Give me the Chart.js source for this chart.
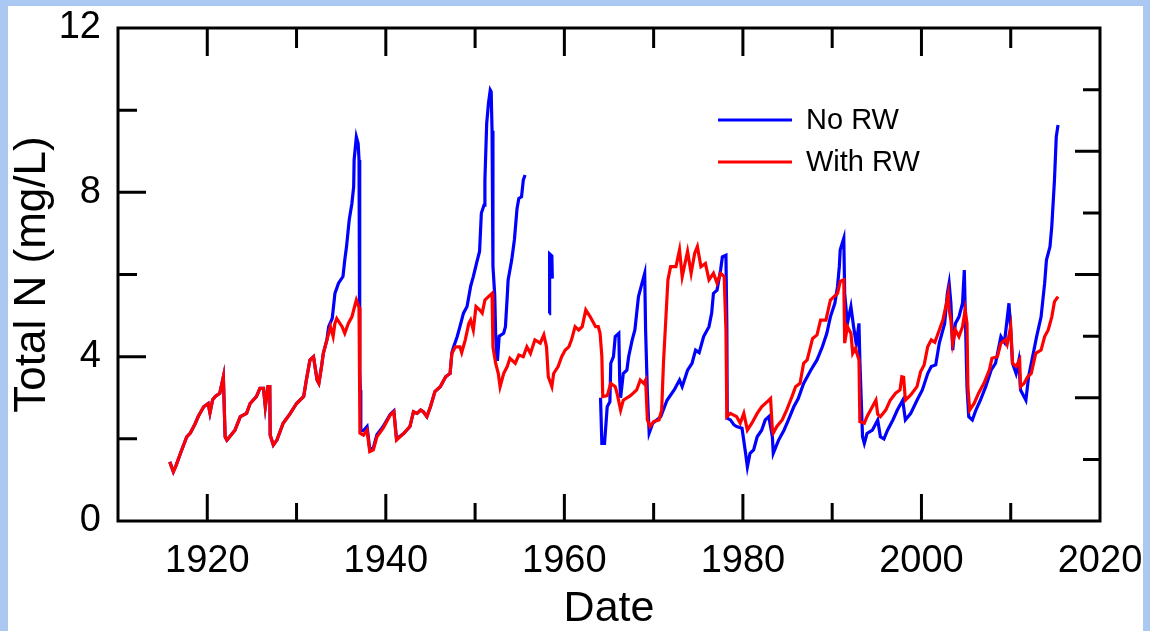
<!DOCTYPE html>
<html>
<head>
<meta charset="utf-8">
<script src="https://cdn.jsdelivr.net/npm/chart.js@4"></script>
<style>
  body { margin: 0; background: #aac8f1; width: 1150px; height: 631px; overflow: hidden; }
  #panel { position: absolute; left: 8px; top: 6px; width: 1135px; height: 625px; background: #fff; }
  #myChart { position: absolute; left: 0; top: 0; }
</style>
</head>
<body>
<div id="panel"></div>
<canvas id="myChart" width="1150" height="631"></canvas>
<script>
// With RW (red)
const withRwYears = [
  1915.8, 1916.2, 1916.5, 1917.0, 1917.7, 1918.1, 1918.6, 1919.0, 1919.6, 1920.1,
  1920.3, 1920.6, 1920.9, 1921.4, 1921.8, 1922.0, 1922.2, 1923.1, 1923.7, 1924.4,
  1924.8, 1925.5, 1925.9, 1926.3, 1926.5, 1926.8, 1927.0, 1927.05, 1927.4, 1927.8,
  1928.5, 1929.3, 1930.0, 1930.8, 1931.1, 1931.5, 1931.9, 1932.3, 1932.5, 1932.8,
  1933.0, 1933.4, 1933.6, 1933.8, 1934.1, 1934.3, 1934.5, 1935.1, 1935.4, 1935.8,
  1936.2, 1936.6, 1936.7, 1936.9, 1937.0, 1937.1, 1937.5, 1937.9, 1938.2, 1938.6,
  1939.0, 1939.7, 1940.5, 1940.9, 1941.2, 1942.0, 1942.7, 1943.1, 1943.5, 1943.9,
  1944.2, 1944.6, 1945.0, 1945.5, 1946.1, 1946.7, 1947.2, 1947.4, 1947.8, 1948.3,
  1948.5, 1948.9, 1949.3, 1949.5, 1949.8, 1950.1, 1950.5, 1950.8, 1951.1, 1951.5,
  1951.9, 1952.0, 1952.3, 1952.6, 1952.8, 1953.2, 1953.6, 1953.9, 1954.5, 1954.9,
  1955.4, 1955.8, 1956.2, 1956.7, 1957.3, 1957.7, 1958.0, 1958.2, 1958.6, 1958.8,
  1959.3, 1959.7, 1960.1, 1960.5, 1960.8, 1961.2, 1961.6, 1962.0, 1962.4, 1962.9,
  1963.5, 1963.8, 1964.0, 1964.2, 1964.3, 1964.8, 1965.2, 1965.7, 1965.9, 1966.3,
  1966.6, 1967.4, 1968.1, 1968.5, 1968.9, 1969.1, 1969.3, 1969.6, 1970.0, 1970.6,
  1970.9, 1971.1, 1971.3, 1971.6, 1971.9, 1972.5, 1972.9, 1973.2, 1973.8, 1974.2,
  1974.6, 1974.9, 1975.3, 1975.8, 1976.2, 1976.7, 1977.1, 1977.5, 1977.9, 1978.1,
  1978.2, 1978.6, 1979.3, 1979.7, 1980.1, 1980.5, 1981.0, 1981.6, 1982.1, 1982.7,
  1983.1, 1983.3, 1983.4, 1983.8, 1984.4, 1984.9, 1985.5, 1985.9, 1986.4, 1986.8,
  1987.2, 1987.8, 1988.3, 1988.7, 1989.3, 1989.8, 1990.6, 1990.9, 1991.3, 1991.4,
  1991.7, 1992.1, 1992.3, 1992.6, 1993.0, 1993.1, 1993.6, 1993.9, 1994.3, 1994.9,
  1995.1, 1995.4, 1996.0, 1996.5, 1997.1, 1997.6, 1997.8, 1998.0, 1998.2, 1998.8,
  1999.5, 1999.9, 2000.3, 2000.7, 2001.1, 2001.5, 2002.0, 2002.4, 2002.8, 2003.0,
  2003.1, 2003.3, 2003.5, 2003.8, 2004.2, 2004.6, 2004.9, 2005.1, 2005.2, 2005.4,
  2005.9, 2006.4, 2007.0, 2007.6, 2007.9, 2008.5, 2008.9, 2009.4, 2009.6, 2010.0,
  2010.2, 2010.6, 2011.0, 2011.1, 2011.5, 2011.9, 2012.3, 2012.8, 2013.4, 2013.8,
  2014.2, 2014.6, 2014.9, 2015.3
]
const withRwValues = [
  1.44, 1.20, 1.35, 1.65, 2.05, 2.14, 2.35, 2.55, 2.78, 2.86,
  2.63, 2.95, 3.03, 3.11, 3.51, 2.05, 1.97, 2.21, 2.54, 2.62,
  2.86, 3.03, 3.23, 3.23, 2.78, 3.27, 3.27, 2.09, 1.85, 1.97,
  2.38, 2.62, 2.86, 3.03, 3.43, 3.92, 4.00, 3.43, 3.35, 3.76,
  4.08, 4.41, 4.57, 4.73, 4.49, 4.81, 4.93, 4.73, 4.57, 4.81,
  4.97, 5.30, 5.38, 5.26, 5.20, 2.14, 2.09, 2.21, 1.69, 1.73,
  2.05, 2.26, 2.58, 2.66, 1.97, 2.13, 2.30, 2.66, 2.62, 2.70,
  2.66, 2.54, 2.78, 3.15, 3.27, 3.51, 3.59, 4.08, 4.24, 4.24,
  4.10, 4.41, 4.81, 4.89, 4.65, 5.22, 5.14, 5.06, 5.38, 5.46,
  5.54, 4.24, 3.84, 3.59, 3.27, 3.59, 3.76, 3.96, 3.84, 4.04,
  4.00, 4.24, 4.08, 4.41, 4.33, 4.53, 4.24, 3.51, 3.27, 3.59,
  3.76, 4.00, 4.16, 4.24, 4.41, 4.73, 4.65, 4.73, 5.14, 4.97,
  4.73, 4.73, 4.57, 4.00, 3.03, 3.05, 3.35, 3.27, 3.11, 2.70,
  2.94, 3.05, 3.19, 3.43, 3.35, 3.43, 2.46, 2.30, 2.42, 2.46,
  2.70, 3.84, 4.65, 5.87, 6.19, 6.19, 6.60, 5.95, 6.56, 6.03,
  6.52, 6.68, 6.19, 6.27, 5.87, 6.03, 5.79, 6.03, 5.95, 4.65,
  2.54, 2.62, 2.54, 2.38, 2.62, 2.21, 2.38, 2.62, 2.78, 2.90,
  2.98, 2.21, 2.14, 2.30, 2.46, 2.70, 3.03, 3.27, 3.35, 3.84,
  3.92, 4.44, 4.53, 4.89, 4.89, 5.38, 5.54, 5.83, 5.87, 4.33,
  4.73, 4.57, 4.08, 4.20, 3.92, 2.42, 2.38, 2.54, 2.70, 2.94,
  2.60, 2.54, 2.70, 2.94, 3.11, 3.19, 3.51, 3.50, 2.94, 3.07,
  3.27, 3.63, 3.80, 4.24, 4.41, 4.35, 4.65, 4.89, 5.30, 5.54,
  5.14, 4.89, 4.33, 4.65, 4.49, 4.73, 5.14, 4.81, 3.27, 2.70,
  2.86, 3.11, 3.35, 3.67, 3.96, 4.00, 4.33, 4.41, 4.30, 4.73,
  3.84, 3.76, 3.92, 3.27, 3.35, 3.51, 3.59, 4.08, 4.16, 4.49,
  4.65, 4.97, 5.34, 5.46
]

// No RW (blue), null = break in the line
const noRwYears = [
  1915.8, 1916.2, 1916.5, 1917.0, 1917.7, 1918.1, 1918.6, 1919.0, 1919.6, 1920.1,
  1920.3, 1920.6, 1920.9, 1921.4, 1921.8, 1922.0, 1922.2, 1923.1, 1923.7, 1924.4,
  1924.8, 1925.5, 1925.9, 1926.3, 1926.5, 1926.8, 1927.0, 1927.05, 1927.4, 1927.8,
  1928.5, 1929.3, 1930.0, 1930.8, 1931.1, 1931.5, 1931.9, 1932.3, 1932.5, 1932.8,
  1933.0, 1933.4, 1933.6, 1934.0, 1934.3, 1934.7, 1935.2, 1935.4, 1935.6, 1935.9,
  1936.2, 1936.4, 1936.45, 1936.7, 1936.9, 1937.0, 1937.05, 1937.1, 1937.15, 1937.2,
  1937.5, 1937.9, 1938.2, 1938.6, 1939.0, 1939.7, 1940.5, 1940.9, 1941.2, 1942.0,
  1942.7, 1943.1, 1943.5, 1943.9, 1944.2, 1944.6, 1945.0, 1945.5, 1946.1, 1946.7,
  1947.2, 1947.4, 1947.6, 1948.0, 1948.3, 1948.7, 1949.1, 1949.5, 1949.8, 1950.2,
  1950.5, 1950.7, 1951.0, 1951.1, 1951.3, 1951.5, 1951.7, 1951.8, 1951.9, 1952.0,
  1952.2, 1952.3, 1952.4, 1952.5, 1952.7, 1953.2, 1953.4, 1953.6, 1953.7, 1954.1,
  1954.4, 1954.7, 1954.9, 1955.2, 1955.4, 1955.6, 1957.0, 1958.3, 1958.35, 1958.6,
  1958.65, 1961.0, 1964.05, 1964.2, 1964.5, 1964.8, 1965.1, 1965.2, 1965.5, 1965.7,
  1965.9, 1966.1, 1966.2, 1966.3, 1966.6, 1967.0, 1967.2, 1967.6, 1967.9, 1968.3,
  1968.7, 1969.0, 1969.1, 1969.3, 1969.5, 1969.9, 1970.8, 1971.5, 1972.3, 1972.9,
  1973.2, 1973.8, 1974.3, 1974.7, 1975.1, 1975.6, 1976.2, 1976.5, 1976.7, 1977.1,
  1977.5, 1977.7, 1978.1, 1978.2, 1978.25, 1978.6, 1979.0, 1979.3, 1979.9, 1980.3,
  1980.5, 1980.8, 1981.2, 1981.6, 1982.1, 1982.5, 1982.9, 1983.3, 1983.4, 1984.0,
  1984.6, 1985.1, 1985.7, 1986.2, 1986.8, 1987.6, 1988.3, 1988.9, 1989.4, 1989.8,
  1990.3, 1990.6, 1990.8, 1990.9, 1991.3, 1991.4, 1991.7, 1992.1, 1992.4, 1992.7,
  1993.0, 1993.1, 1993.4, 1993.6, 1993.9, 1994.5, 1995.1, 1995.4, 1995.8, 1996.2,
  1996.8, 1997.3, 1997.9, 1998.2, 1998.8, 1999.5, 2000.1, 2000.7, 2001.1, 2001.6,
  2002.0, 2002.6, 2002.9, 2003.1, 2003.3, 2003.5, 2003.8, 2004.2, 2004.6, 2004.8,
  2004.9, 2005.1, 2005.3, 2005.7, 2006.1, 2006.6, 2007.2, 2007.8, 2008.3, 2008.9,
  2009.3, 2009.8, 2010.0, 2010.2, 2010.6, 2010.9, 2011.1, 2011.7, 2012.0, 2012.6,
  2012.9, 2013.4, 2013.8, 2014.0, 2014.4, 2014.6, 2014.9, 2015.1, 2015.3
]
const noRwValues = [
  1.44, 1.20, 1.35, 1.65, 2.05, 2.14, 2.35, 2.55, 2.78, 2.86,
  2.63, 2.95, 3.03, 3.11, 3.51, 2.05, 1.97, 2.21, 2.54, 2.62,
  2.86, 3.03, 3.23, 3.23, 2.78, 3.27, 3.27, 2.09, 1.85, 1.97,
  2.38, 2.62, 2.86, 3.03, 3.43, 3.92, 4.00, 3.43, 3.35, 3.76,
  4.08, 4.41, 4.73, 4.93, 5.54, 5.79, 5.95, 6.35, 6.68, 7.33,
  7.73, 8.14, 8.79, 9.35, 9.19, 8.79, 5.30, 3.67, 3.19, 2.20,
  2.20, 2.30, 1.75, 1.78, 2.10, 2.30, 2.60, 2.68, 2.00, 2.13,
  2.30, 2.66, 2.62, 2.70, 2.66, 2.54, 2.78, 3.15, 3.27, 3.51,
  3.59, 4.10, 4.24, 4.49, 4.73, 5.06, 5.22, 5.71, 5.95, 6.31,
  6.56, 7.49, 7.69, 8.30, 9.68, 10.17, 10.49, 10.45, 9.50, 6.20,
  5.50, 4.57, 4.10, 3.90, 4.50, 4.57, 4.73, 5.46, 5.87, 6.35,
  6.84, 7.61, 7.85, 7.89, 8.30, 8.42, null, 5.05, 6.50, 6.45,
  5.90, null, 3.00, 1.89, 1.89, 2.78, 2.90, 3.84, 4.00, 4.49,
  4.53, 4.57, 3.43, 3.00, 3.59, 3.67, 4.00, 4.41, 4.65, 5.46,
  5.79, 6.03, 4.65, 3.11, 2.14, 2.38, 2.54, 2.94, 3.19, 3.43,
  3.27, 3.67, 3.84, 4.16, 4.10, 4.49, 4.73, 5.06, 5.54, 5.62,
  6.11, 6.43, 6.47, 4.73, 2.50, 2.46, 2.34, 2.30, 2.26, 1.65,
  1.32, 1.65, 1.73, 2.05, 2.21, 2.46, 2.54, 2.05, 1.65, 1.97,
  2.21, 2.46, 2.78, 2.98, 3.35, 3.67, 3.92, 4.24, 4.57, 4.97,
  5.30, 5.71, 6.19, 6.60, 6.88, 5.54, 4.81, 5.22, 4.73, 4.30,
  4.81, 3.92, 2.05, 1.89, 2.13, 2.21, 2.46, 2.05, 2.00, 2.21,
  2.46, 2.70, 2.94, 2.46, 2.62, 2.94, 3.19, 3.59, 3.76, 3.80,
  4.33, 4.81, 5.54, 5.79, 5.30, 4.16, 4.81, 4.97, 5.30, 6.11,
  5.14, 3.27, 2.54, 2.46, 2.70, 2.94, 3.27, 3.67, 3.84, 4.49,
  4.35, 5.30, 4.65, 3.84, 3.59, 3.90, 3.19, 2.94, 3.51, 4.16,
  4.49, 4.97, 5.79, 6.35, 6.68, 7.17, 8.30, 9.35, 9.64
]

const seriesLabels = ['No RW', 'With RW']
const seriesColors = ['rgb(0, 0, 255)', 'rgb(255, 0, 0)']
const xTickLabels = [1920, 1940, 1960, 1980, 2000, 2020]
const yTickLabels = [0, 4, 8, 12]

const toPoints = (xs, ys) => xs.map((x, i) => ({x: x, y: ys[i]}))

const fontFamily = 'Arial, "Liberation Sans", sans-serif'

// frame, inward tick marks and the legend
const framePlugin = {
    id: 'frame',
    afterDraw(chart) {
        const ctx = chart.ctx
        const a = chart.chartArea
        const xs = chart.scales.x
        const ys = chart.scales.y
        ctx.save()
        ctx.strokeStyle = '#000'
        ctx.lineWidth = 3
        ctx.lineCap = 'butt'
        ctx.strokeRect(a.left, a.top, a.right - a.left, a.bottom - a.top)
        ctx.beginPath()
        for (let v = 1920; v < 2020; v += 10) {
            const px = xs.getPixelForValue(v)
            const major = v % 20 === 0
            ctx.moveTo(px, a.bottom)
            ctx.lineTo(px, a.bottom - (major ? 27 : 18))
            ctx.moveTo(px, a.top)
            ctx.lineTo(px, a.top + (major ? 28 : 20))
        }
        for (let v = 2; v < 12; v += 2) {
            const py = ys.getPixelForValue(v)
            ctx.moveTo(a.left, py)
            ctx.lineTo(a.left + (v % 4 === 0 ? 28 : 19), py)
        }
        for (let v = 1.5; v < 12; v += 1.5) {
            const py = ys.getPixelForValue(v)
            ctx.moveTo(a.right, py)
            ctx.lineTo(a.right - (v % 3 === 0 ? 25 : 17), py)
        }
        ctx.stroke()

        // legend
        ctx.font = '29px ' + fontFamily
        ctx.textBaseline = 'middle'
        ctx.textAlign = 'left'
        chart.data.datasets.forEach((ds, i) => {
            const y = a.top + 92 + i * 42
            ctx.strokeStyle = ds.borderColor
            ctx.lineWidth = 3
            ctx.beginPath()
            ctx.moveTo(a.left + 600, y)
            ctx.lineTo(a.left + 674, y)
            ctx.stroke()
            ctx.fillStyle = '#000'
            ctx.fillText(ds.label, a.left + 688, y + 1)
        })
        ctx.restore()
    }
}

const data = {
    datasets: [{
        label: seriesLabels[0],
        borderColor: seriesColors[0],
        data: toPoints(noRwYears, noRwValues),
        order: 2,
    }, {
        label: seriesLabels[1],
        borderColor: seriesColors[1],
        data: toPoints(withRwYears, withRwValues),
        order: 1,
    }]
}

const config = {
    type: 'line',
    data: data,
    options: {
        responsive: false,
        animation: false,
        spanGaps: false,
        layout: { padding: { top: 28, right: 50, left: 0, bottom: 0 } },
        elements: {
            point: { radius: 0 },
            line: { borderWidth: 3.2, tension: 0, borderJoinStyle: 'miter' }
        },
        plugins: {
            legend: { display: false },
            tooltip: { enabled: false }
        },
        scales: {
            x: {
                type: 'linear',
                min: 1910,
                max: 2020,
                grid: { display: false, drawTicks: false },
                border: { display: false },
                afterBuildTicks: s => { s.ticks = xTickLabels.map(v => ({value: v})) },
                afterFit: s => { s.height = 110; s.paddingLeft = 0; s.paddingRight = 0 },
                ticks: {
                    color: '#000',
                    padding: 18,
                    maxRotation: 0,
                    autoSkip: false,
                    callback: v => String(v),
                    font: { family: fontFamily, size: 38 }
                },
                title: {
                    display: true,
                    text: 'Date',
                    color: '#000',
                    font: { family: fontFamily, size: 43, lineHeight: 1 },
                    padding: { top: 0, bottom: 0 }
                }
            },
            y: {
                min: 0,
                max: 12,
                grid: { display: false, drawTicks: false },
                border: { display: false },
                afterBuildTicks: s => { s.ticks = yTickLabels.map(v => ({value: v})) },
                afterFit: s => { s.width = 118; s.paddingTop = 0; s.paddingBottom = 0 },
                ticks: {
                    color: '#000',
                    padding: 17,
                    callback: v => String(v),
                    font: { family: fontFamily, size: 38 }
                },
                title: {
                    display: true,
                    text: 'Total N (mg/L)',
                    color: '#000',
                    font: { family: fontFamily, size: 44, lineHeight: 1.2 },
                    padding: { top: 6, bottom: 0 }
                }
            }
        }
    },
    plugins: [framePlugin]
}

const myChart = new Chart(document.getElementById('myChart'), config)
</script>
</body>
</html>
